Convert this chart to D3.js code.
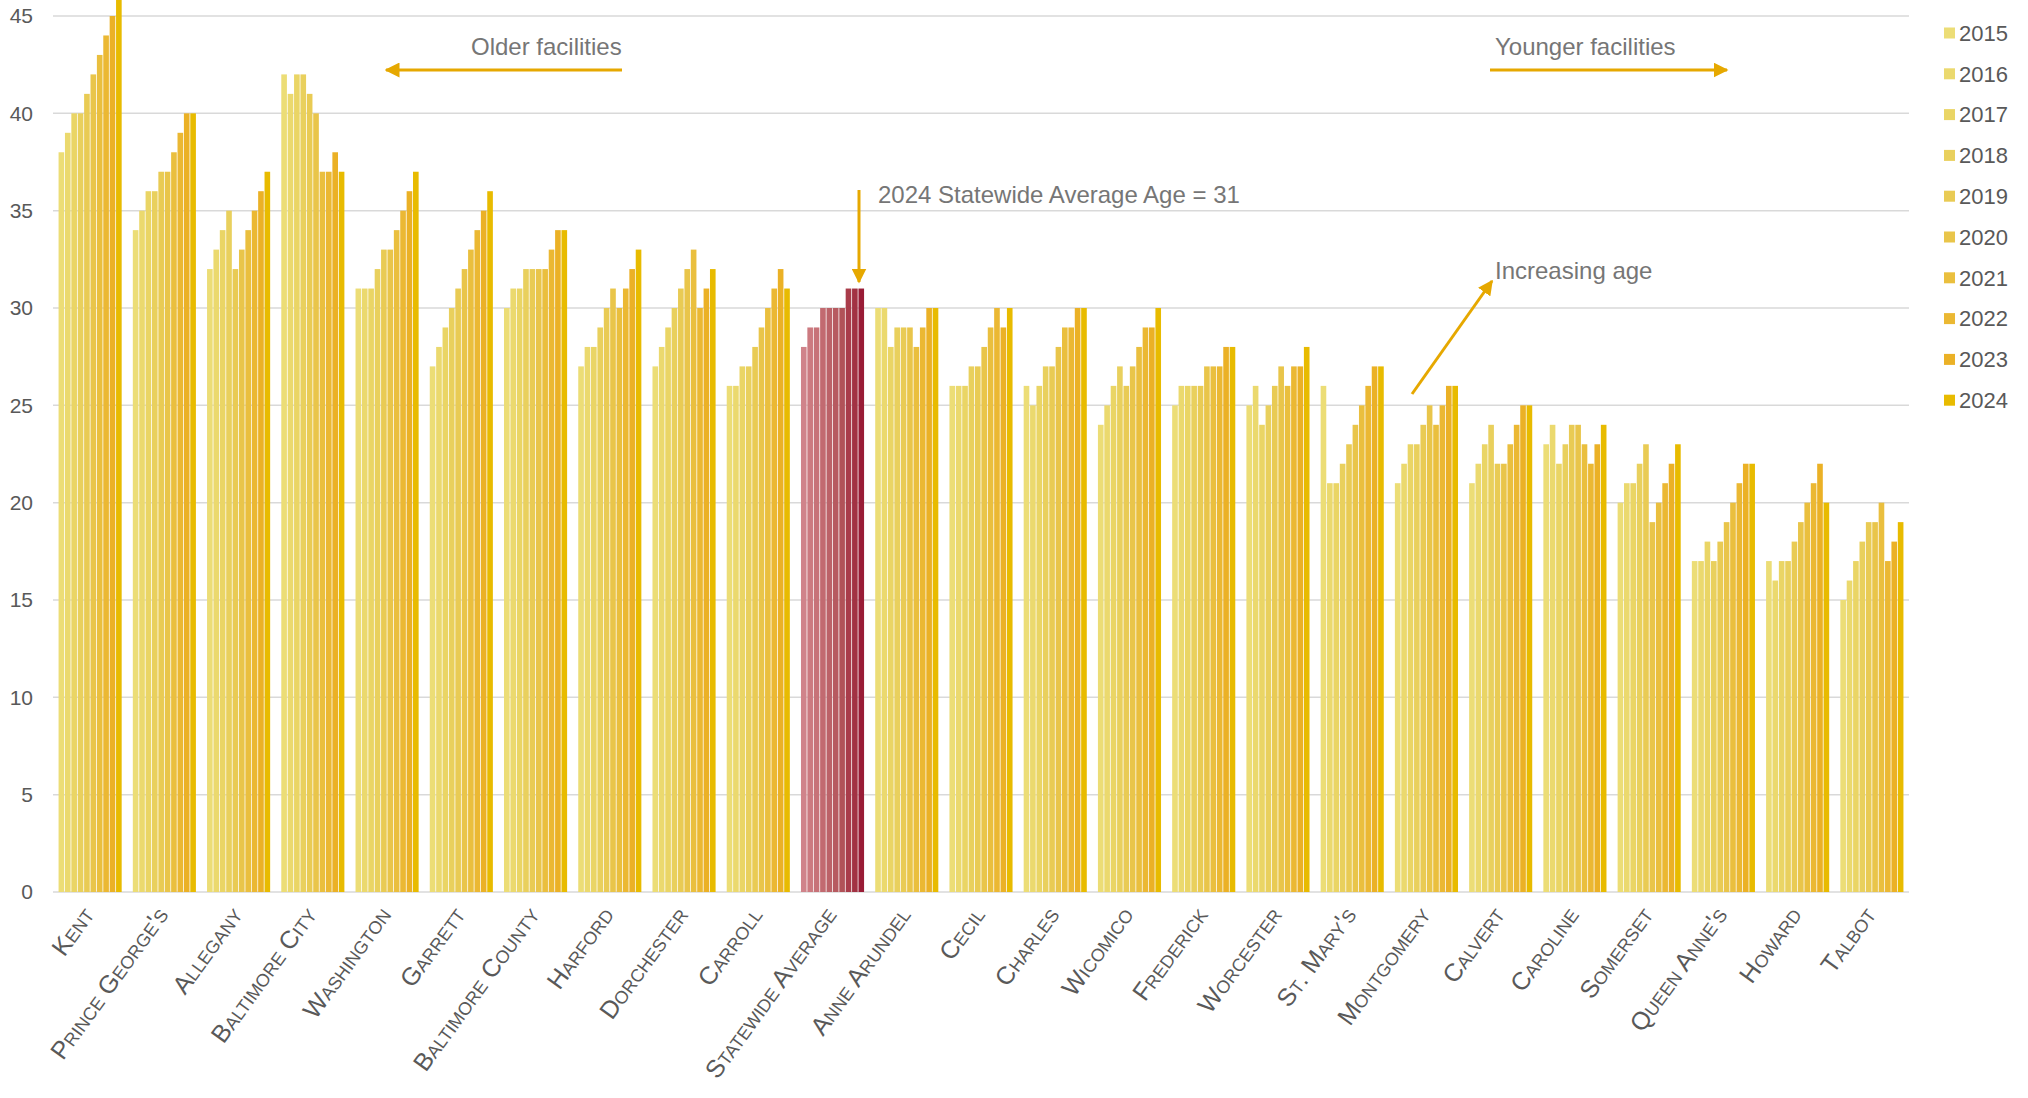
<!DOCTYPE html>
<html>
<head>
<meta charset="utf-8">
<script src="https://cdn.jsdelivr.net/npm/d3@7"></script>
<style>
  body { margin: 0; background: #fff; }
  svg { display: block; font-family: "Liberation Sans", Arial, sans-serif; }
</style>
</head>
<body>
<svg width="2028" height="1098"></svg>
<script>
// categories
var counties = ["Kent", "Prince George's", "Allegany", "Baltimore City", "Washington", "Garrett",
  "Baltimore County", "Harford", "Dorchester", "Carroll", "Statewide Average", "Anne Arundel",
  "Cecil", "Charles", "Wicomico", "Frederick", "Worcester", "St. Mary's", "Montgomery",
  "Calvert", "Caroline", "Somerset", "Queen Anne's", "Howard", "Talbot"];
var years = ["2015", "2016", "2017", "2018", "2019", "2020", "2021", "2022", "2023", "2024"];

// average facility age, one array per year (same order as counties)
var age2015 = [38,34,32,42,31,27,30,27,27,26,28,30,26,26,24,25,25,26,21,21,23,20,17,17,15];
var age2016 = [39,35,33,41,31,28,31,28,28,26,29,30,26,25,25,26,26,21,22,22,24,21,17,16,16];
var age2017 = [40,36,34,42,31,29,31,28,29,27,29,28,26,26,26,26,24,21,23,23,22,21,18,17,17];
var age2018 = [40,36,35,42,32,30,32,29,30,27,30,29,27,27,27,26,25,22,23,24,23,22,17,17,18];
var age2019 = [41,37,32,41,33,31,32,30,31,28,30,29,27,27,26,26,26,23,24,22,24,23,18,18,19];
var age2020 = [42,37,33,40,33,32,32,31,32,29,30,29,28,28,27,27,27,24,25,22,24,19,19,19,19];
var age2021 = [43,38,34,37,34,33,32,30,33,30,30,28,29,29,28,27,26,25,24,23,23,20,20,20,20];
var age2022 = [44,39,35,37,35,34,33,31,30,31,31,29,30,29,29,27,27,26,25,24,22,21,21,21,17];
var age2023 = [45,40,36,38,36,35,34,32,31,32,31,30,29,30,29,28,27,27,26,25,23,22,22,22,18];
var age2024 = [46,40,37,37,37,36,34,33,32,31,31,30,30,30,30,28,28,27,26,25,24,23,22,20,19];
var series = [age2015, age2016, age2017, age2018, age2019, age2020, age2021, age2022, age2023, age2024];

var yTicks = [0, 5, 10, 15, 20, 25, 30, 35, 40, 45];

var yearColors = ["#ecdd76", "#ebd96e", "#ead565", "#e9d05d", "#e9cb54", "#e9c54a", "#eabf3e", "#ebb833", "#ebb126", "#e8bb00"];
var avgColors = ["#d0838a", "#cc7a80", "#c77278", "#c26a70", "#bc6268", "#b75a60", "#b15258", "#a93c4a", "#a23243", "#991c36"];

var svg = d3.select("svg");
var plotLeft = 53, plotRight = 1909, plotTop = 16, plotBottom = 892;

var x0 = d3.scaleBand().domain(counties).range([plotLeft, plotRight]).paddingInner(0.15).paddingOuter(0.075);
var x1 = d3.scaleBand().domain(years).range([0, x0.bandwidth()]).paddingInner(0.12);
var y = d3.scaleLinear().domain([0, 45]).range([plotBottom, plotTop]);

var gold = "#e6a800";

// gridlines
svg.append("g")
  .selectAll("line")
  .data(yTicks)
  .enter()
  .append("line")
    .attr("x1", plotLeft)
    .attr("x2", plotRight)
    .attr("y1", function (d) { return y(d); })
    .attr("y2", function (d) { return y(d); })
    .attr("stroke", "#d9d9d9")
    .attr("stroke-width", 1.5);

// y axis labels
svg.append("g")
  .selectAll("text")
  .data(yTicks)
  .enter()
  .append("text")
    .attr("x", 33)
    .attr("y", function (d) { return y(d); })
    .attr("dy", "0.35em")
    .attr("text-anchor", "end")
    .attr("fill", "#595959")
    .attr("font-size", 21)
    .text(function (d) { return d; });

// bars
var rows = [];
counties.forEach(function (c, ci) {
  years.forEach(function (yr, yi) {
    rows.push({ county: c, year: yr, yi: yi, value: series[yi][ci] });
  });
});

svg.append("g")
  .selectAll("rect")
  .data(rows)
  .enter()
  .append("rect")
    .attr("x", function (d) { return x0(d.county) + x1(d.year); })
    .attr("width", x1.bandwidth())
    .attr("y", function (d) { return y(d.value); })
    .attr("height", function (d) { return y(0) - y(d.value); })
    .attr("fill", function (d) {
      return d.county === "Statewide Average" ? avgColors[d.yi] : yearColors[d.yi];
    });

// category labels
svg.append("g")
  .selectAll("text")
  .data(counties)
  .enter()
  .append("text")
    .attr("transform", function (d) {
      return "translate(" + (x0(d) + x0.bandwidth() / 2 + 5) + ",915) rotate(-54)";
    })
    .attr("text-anchor", "end")
    .attr("fill", "#595959")
    .attr("font-size", 25)
    .style("font-variant", "small-caps")
    .text(function (d) { return d; });

// legend
var legend = svg.append("g")
  .selectAll("g")
  .data(years)
  .enter()
  .append("g")
    .attr("transform", function (d, i) { return "translate(1944," + (33 + i * 40.8) + ")"; });

legend.append("rect")
  .attr("x", 0)
  .attr("y", -5.5)
  .attr("width", 11)
  .attr("height", 11)
  .attr("fill", function (d, i) { return yearColors[i]; });

legend.append("text")
  .attr("x", 15)
  .attr("dy", "0.35em")
  .attr("fill", "#595959")
  .attr("font-size", 22)
  .text(function (d) { return d; });

// annotations
svg.append("defs").append("marker")
  .attr("id", "head")
  .attr("viewBox", "0 0 10 10")
  .attr("refX", 9)
  .attr("refY", 5)
  .attr("markerWidth", 5)
  .attr("markerHeight", 5)
  .attr("markerUnits", "strokeWidth")
  .attr("orient", "auto")
  .append("path")
    .attr("d", "M0,0 L10,5 L0,10 z")
    .attr("fill", gold);

function arrow(ax, ay, bx, by) {
  svg.append("line")
    .attr("x1", ax).attr("y1", ay)
    .attr("x2", bx).attr("y2", by)
    .attr("stroke", gold)
    .attr("stroke-width", 3)
    .attr("marker-end", "url(#head)");
}

function note(x, yy, txt) {
  svg.append("text")
    .attr("x", x)
    .attr("y", yy)
    .attr("fill", "#767676")
    .attr("font-size", 24)
    .text(txt);
}

note(471, 55, "Older facilities");
arrow(622, 70, 386, 70);

note(1495, 55, "Younger facilities");
arrow(1490, 70, 1727, 70);

note(878, 203, "2024 Statewide Average Age = 31");
arrow(859, 190, 859, 282);

note(1495, 279, "Increasing age");
arrow(1412, 394, 1492, 281);
</script>
</body>
</html>
